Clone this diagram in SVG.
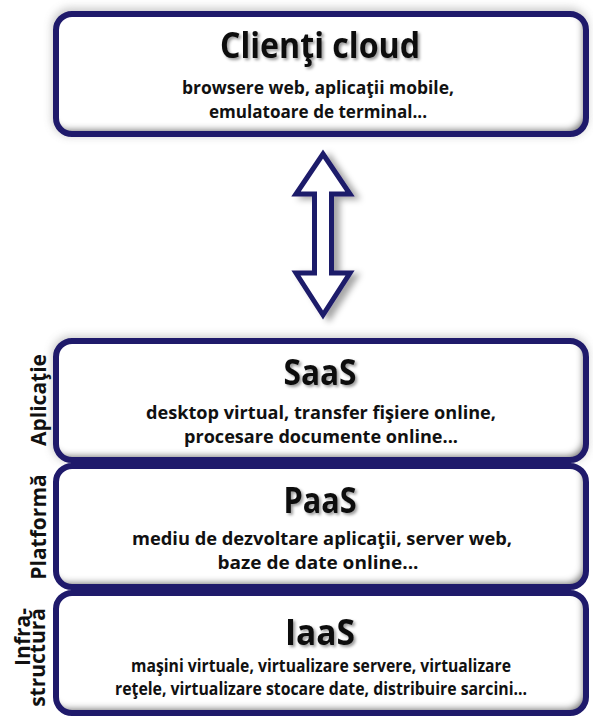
<svg xmlns="http://www.w3.org/2000/svg" width="593" height="718" viewBox="0 0 593 718">
  <style>
    .frame { fill: none; stroke: #1f1a6b; stroke-width: 6; }
    .panel { fill: #ffffff; filter: url(#inset); }
    .halo { fill: #8a8a8a; opacity: 0.45; filter: url(#soft); }
    .t { font-family: "Open Sans", "Liberation Sans", sans-serif; font-weight: 700; fill: #111111; text-anchor: middle; }
    .title { font-size: 35px; filter: url(#tshadow); }
    .sub { font-size: 18px; }
    .side { font-family: "Open Sans", "Liberation Sans", sans-serif; font-weight: 700; fill: #111111; font-size: 21px; }
    .arrow { fill: #ffffff; stroke: #1f1a6b; stroke-width: 5; stroke-linejoin: miter; filter: url(#drop); }
  </style>
  <defs>
    <filter id="soft" x="-10%" y="-20%" width="120%" height="140%">
      <feGaussianBlur stdDeviation="4"/>
    </filter>
    <filter id="inset" x="-5%" y="-10%" width="110%" height="120%">
      <feOffset in="SourceAlpha" dx="-4" dy="-5" result="o"/>
      <feGaussianBlur in="o" stdDeviation="3" result="b"/>
      <feComposite in="SourceAlpha" in2="b" operator="out" result="edge"/>
      <feFlood flood-color="#7d7d7d" result="c"/>
      <feComposite in="c" in2="edge" operator="in" result="sh"/>
      <feMerge><feMergeNode in="SourceGraphic"/><feMergeNode in="sh"/></feMerge>
    </filter>
    <filter id="tshadow" x="-10%" y="-30%" width="120%" height="160%">
      <feGaussianBlur in="SourceAlpha" stdDeviation="1.6"/>
      <feOffset dx="1.5" dy="1.5" result="b"/>
      <feFlood flood-color="#000000" flood-opacity="0.4"/>
      <feComposite in2="b" operator="in" result="s"/>
      <feMerge><feMergeNode in="s"/><feMergeNode in="SourceGraphic"/></feMerge>
    </filter>
    <filter id="drop" x="-50%" y="-20%" width="200%" height="140%">
      <feGaussianBlur in="SourceAlpha" stdDeviation="3"/>
      <feOffset dx="6" dy="3" result="b"/>
      <feFlood flood-color="#000000" flood-opacity="0.35"/>
      <feComposite in2="b" operator="in" result="s"/>
      <feMerge><feMergeNode in="s"/><feMergeNode in="SourceGraphic"/></feMerge>
    </filter>
  </defs>

  <rect width="593" height="718" fill="#ffffff"/>

  <!-- Cloud clients -->
  <g id="clienti-cloud">
    <rect class="halo" x="52" y="8" width="536" height="128" rx="18"/>
    <rect class="panel" x="56" y="14" width="530" height="120" rx="16"/>
    <rect class="frame" x="56" y="14" width="530" height="120" rx="16"/>
    <text class="t title" x="320" y="58" font-size="38" textLength="200" lengthAdjust="spacingAndGlyphs">Clienţi cloud</text>
    <text class="t sub" x="318" y="94" textLength="272" lengthAdjust="spacingAndGlyphs">browsere web, aplicaţii mobile,</text>
    <text class="t sub" x="318" y="118" textLength="218" lengthAdjust="spacingAndGlyphs">emulatoare de terminal...</text>
  </g>

  <!-- Two-way link between clients and the service stack -->
  <g id="connectors">
    <polygon class="arrow" points="323,154 350,194 331.5,194 331.5,273 350,273 323,315 296,273 314.5,273 314.5,194 296,194"/>
  </g>

  <!-- SaaS layer -->
  <g id="saas">
    <rect class="halo" x="52" y="336" width="536" height="126" rx="18"/>
    <rect class="panel" x="56" y="341" width="530" height="119" rx="16"/>
    <rect class="frame" x="56" y="341" width="530" height="119" rx="16"/>
    <text class="t title" x="320" y="385" textLength="73" lengthAdjust="spacingAndGlyphs">SaaS</text>
    <text class="t sub" x="321" y="419" textLength="350" lengthAdjust="spacingAndGlyphs">desktop virtual, transfer fişiere online,</text>
    <text class="t sub" x="321" y="443" textLength="274" lengthAdjust="spacingAndGlyphs">procesare documente online...</text>
    <text class="side" transform="translate(46,400) rotate(-90)" text-anchor="middle">Aplicaţie</text>
  </g>

  <!-- PaaS layer -->
  <g id="paas">
    <rect class="panel" x="56" y="466" width="530" height="121" rx="16"/>
    <rect class="frame" x="56" y="466" width="530" height="121" rx="16"/>
    <text class="t title" x="320" y="513" textLength="73" lengthAdjust="spacingAndGlyphs">PaaS</text>
    <text class="t sub" x="322" y="545" textLength="380" lengthAdjust="spacingAndGlyphs">mediu de dezvoltare aplicaţii, server web,</text>
    <text class="t sub" x="318" y="569" textLength="201" lengthAdjust="spacingAndGlyphs">baze de date online...</text>
    <text class="side" transform="translate(46,527) rotate(-90)" text-anchor="middle" font-size="20">Platformă</text>
  </g>

  <!-- IaaS layer -->
  <g id="iaas">
    <rect class="panel" x="56" y="593" width="530" height="120" rx="16"/>
    <rect class="frame" x="56" y="593" width="530" height="120" rx="16"/>
    <text class="t title" x="320" y="645" textLength="70" lengthAdjust="spacingAndGlyphs">IaaS</text>
    <text class="t sub" x="321" y="672" textLength="380" lengthAdjust="spacingAndGlyphs">maşini virtuale, virtualizare servere, virtualizare</text>
    <text class="t sub" x="321" y="695" font-size="17.5" textLength="412" lengthAdjust="spacingAndGlyphs">reţele, virtualizare stocare date, distribuire sarcini...</text>
    <text class="side" transform="translate(30,608) rotate(-90)" text-anchor="end" font-size="19">Infra-</text>
    <text class="side" transform="translate(45,608) rotate(-90)" text-anchor="end" font-size="19">structură</text>
  </g>
</svg>
